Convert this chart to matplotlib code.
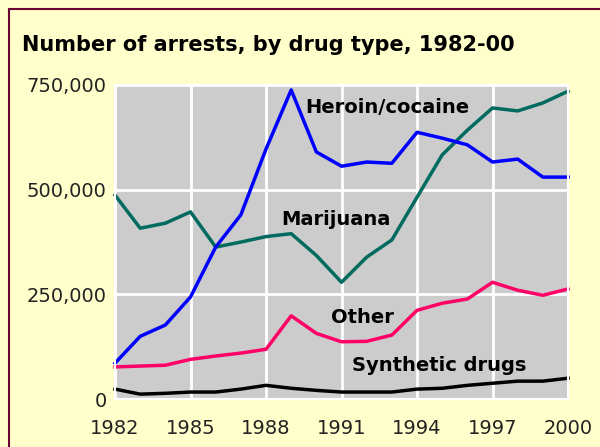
import matplotlib
matplotlib.use("Agg")
import matplotlib.pyplot as plt

years = list(range(1982, 2001))
heroin_cocaine = [86000, 150000, 177000, 244000, 363000, 440000, 597000, 738000, 590000,
                  556000, 566000, 563000, 637000, 623000, 607000, 566000, 573000, 530000, 530000]
marijuana = [487000, 408000, 420000, 447000, 363000, 375000, 388000, 395000, 343000,
             279000, 339000, 380000, 482000, 583000, 642000, 695000, 688000, 707000, 735000]
other = [77000, 79000, 81000, 95000, 103000, 110000, 119000, 199000, 157000,
         137000, 138000, 153000, 212000, 229000, 239000, 279000, 260000, 248000, 263000]
synthetic = [24000, 12000, 14000, 17000, 17000, 24000, 33000, 26000, 21000,
             17000, 17000, 17000, 24000, 26000, 33000, 38000, 43000, 43000, 50000]

x_ticks = [1982, 1985, 1988, 1991, 1994, 1997, 2000]
y_ticks = [0, 250000, 500000, 750000]
y_labels = ["0", "250,000", "500,000", "750,000"]

BG = "#FFFFCC"
fig = plt.figure(figsize=(6, 4.47), dpi=100, facecolor=BG)

# frame lines on the left and top of the panel
fig.add_artist(plt.Line2D([0.015, 0.015], [0, 0.98], color="#660033", lw=1.5))
fig.add_artist(plt.Line2D([0.015, 1.0], [0.98, 0.98], color="#660033", lw=1.5))

ax = fig.add_axes([0.1917, 0.107, 0.755, 0.703])
ax.set_facecolor("#CCCCCC")
ax.set_xlim(1982, 2000)
ax.set_ylim(0, 750000)
for s in ax.spines.values():
    s.set_color("white")
    s.set_linewidth(1.5)

ax.set_xticks(x_ticks)
ax.set_yticks(y_ticks)
ax.set_yticklabels(y_labels)
ax.tick_params(length=0, labelsize=14, labelcolor="#222222")
ax.tick_params(axis="y", pad=6)
ax.tick_params(axis="x", pad=14)
ax.grid(True, color="white", lw=2)
ax.set_axisbelow(True)

ax.plot(years, synthetic, color="black", lw=2.5, clip_on=False)
ax.plot(years, other, color="#FF0066", lw=2.5, clip_on=False)
ax.plot(years, marijuana, color="#006B5E", lw=2.5, clip_on=False)
ax.plot(years, heroin_cocaine, color="#0000FF", lw=2.5, clip_on=False)

lab = dict(fontsize=14, fontweight="bold", color="black", va="center")
ax.text(1989.55, 695000, "Heroin/cocaine", **lab)
ax.text(1988.6, 430000, "Marijuana", **lab)
ax.text(1990.6, 195000, "Other", **lab)
ax.text(1991.4, 80000, "Synthetic drugs", **lab)

fig.text(0.037, 0.9, "Number of arrests, by drug type, 1982-00", fontsize=15,
         fontweight="bold", va="center")

fig.savefig("out.png", dpi=100, facecolor=BG)
